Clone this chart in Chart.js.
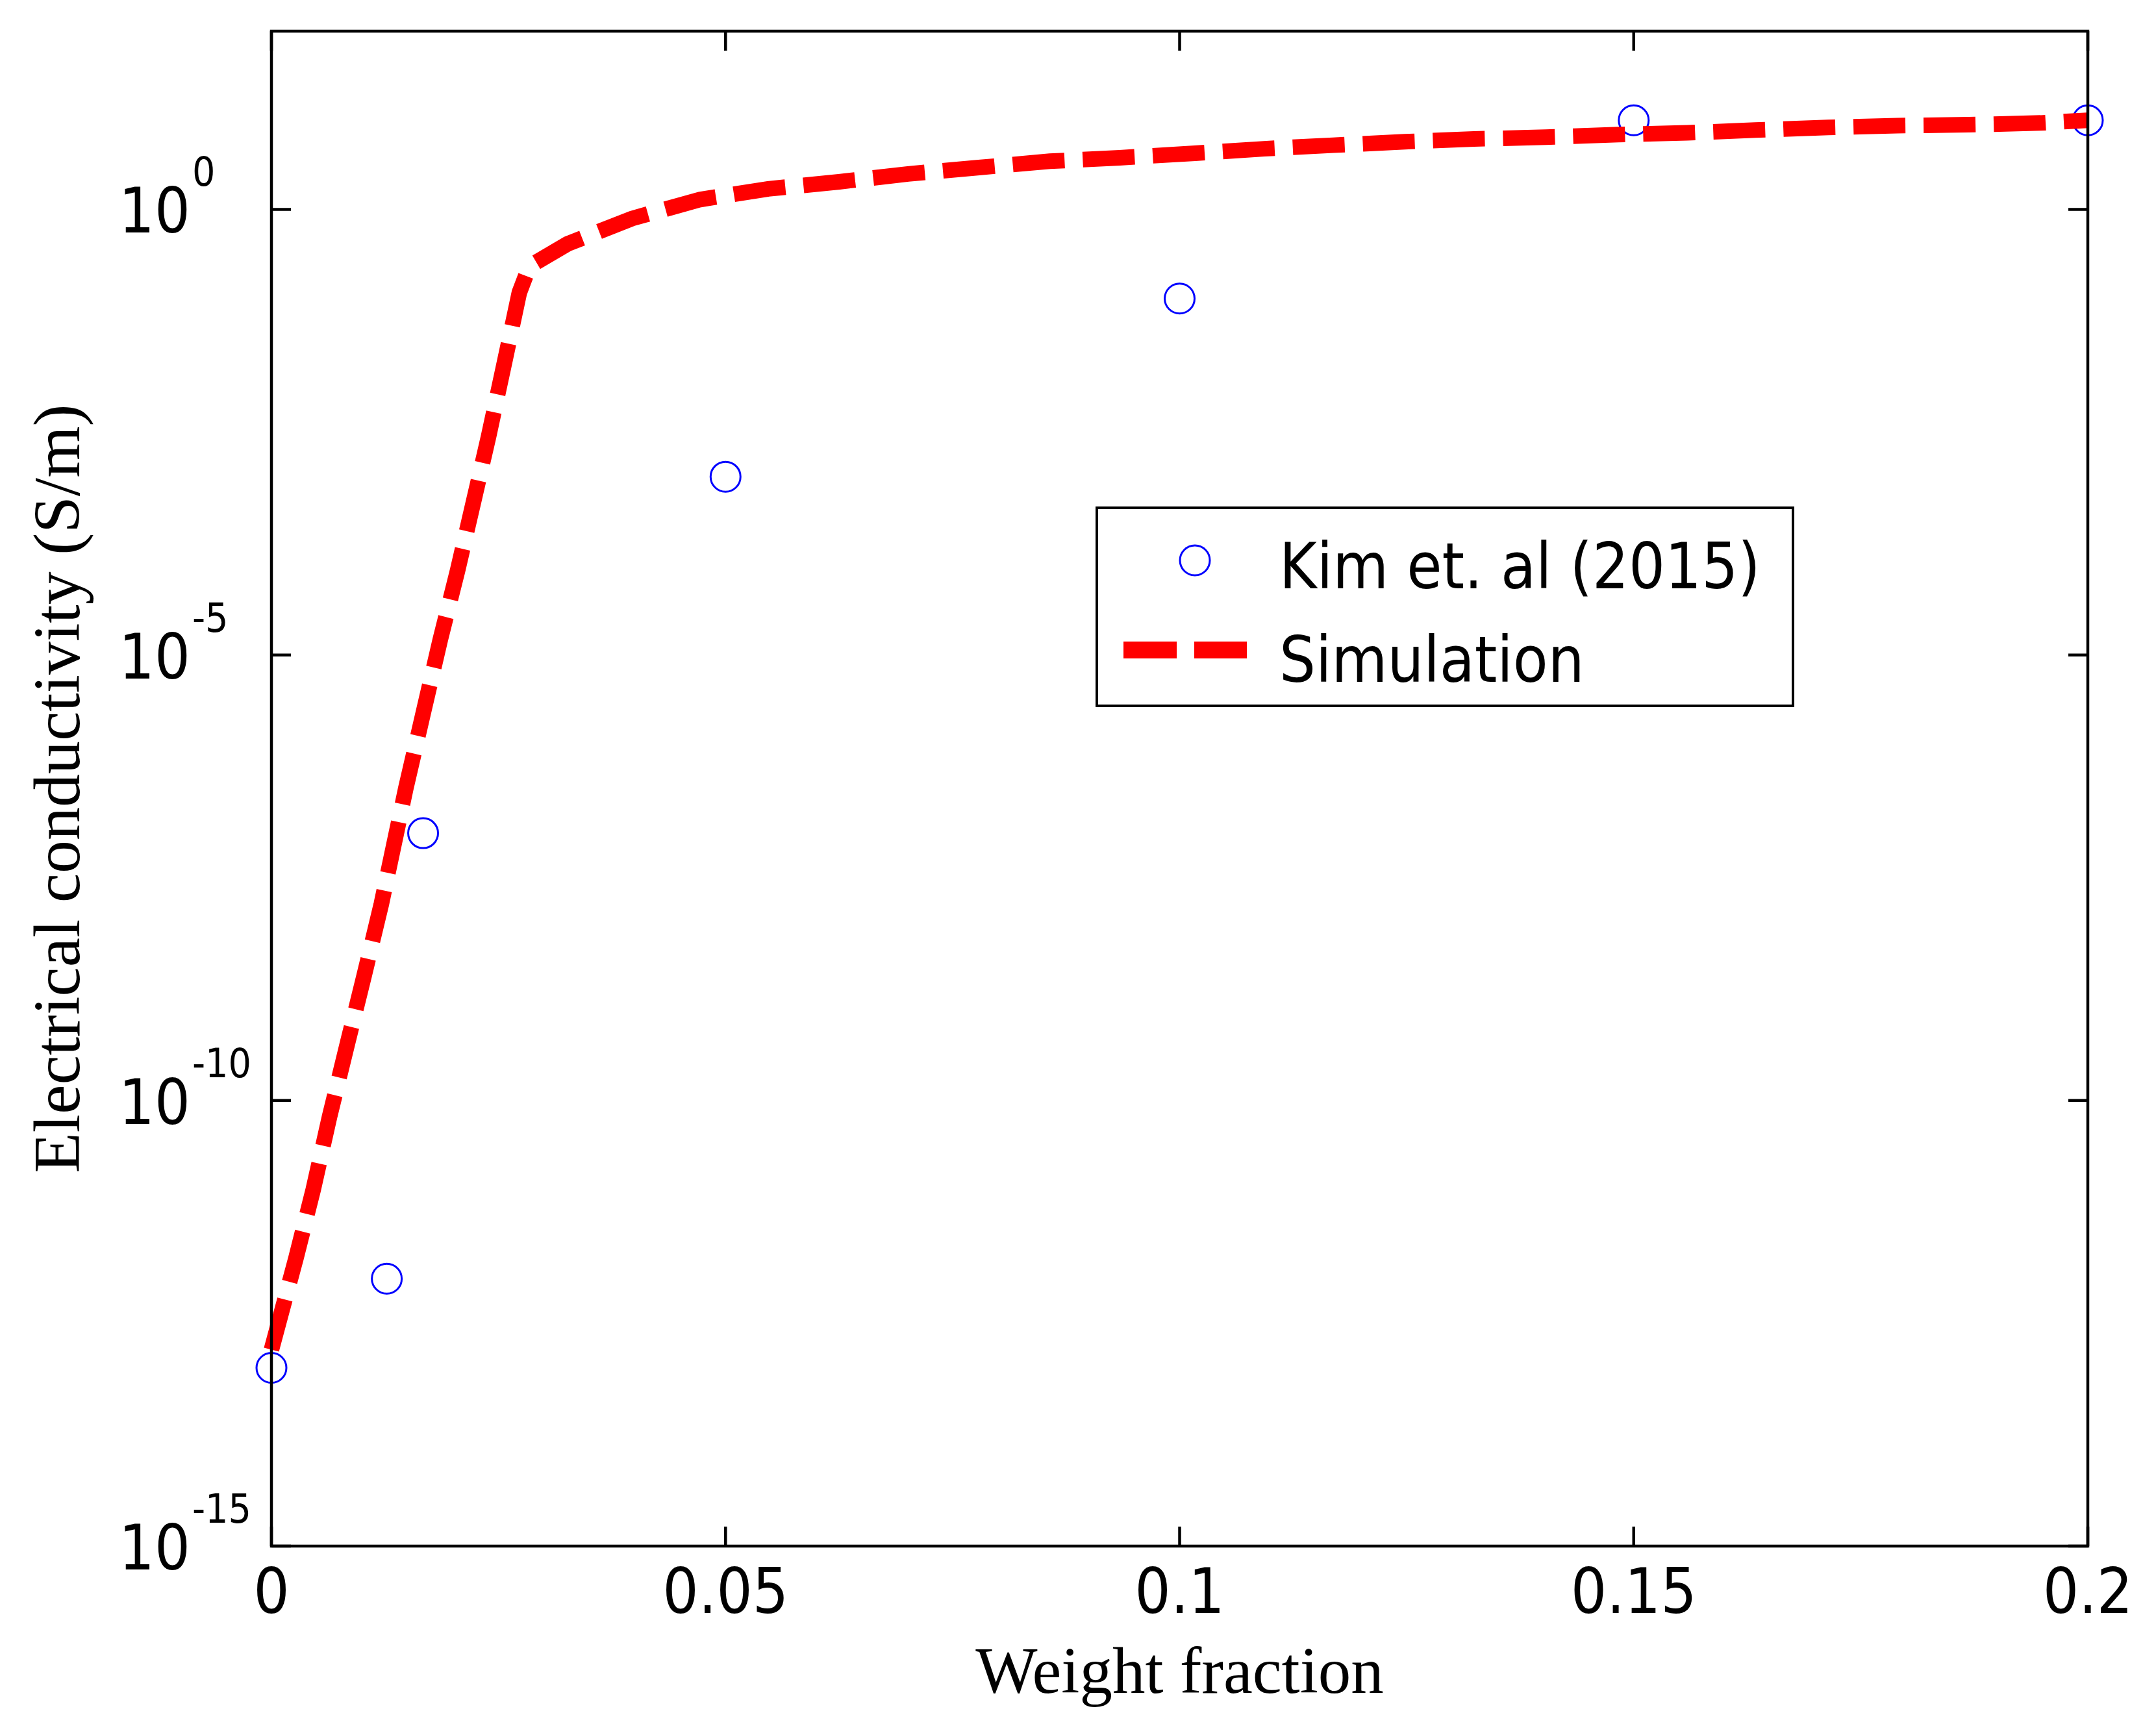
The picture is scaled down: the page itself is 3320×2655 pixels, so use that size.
<!DOCTYPE html>
<html>
<head>
<meta charset="utf-8">
<script src="https://cdn.jsdelivr.net/npm/chart.js@4.4.1/dist/chart.umd.min.js"></script>
<style>
  html, body { margin: 0; padding: 0; background: #fff; }
  #wrap { width: 3320px; height: 2655px; }
</style>
</head>
<body>
<div id="wrap"><canvas id="chart" width="3320" height="2655"></canvas></div>
<script>
// measured points, Kim et al. (2015)
const kimFraction = [0, 0.0127, 0.0167, 0.05, 0.1, 0.15, 0.2];
const kimConductivity = [1e-13, 1e-12, 1e-7, 1e-3, 1e-1, 10, 10];

// simulated curve
const simFraction = [0, 0.0027, 0.0046, 0.0064, 0.0084, 0.0102, 0.0121, 0.0148, 0.0167, 0.0186,
  0.0205, 0.0223, 0.0239, 0.0257, 0.0273, 0.0284, 0.0326, 0.0397, 0.0472, 0.0547,
  0.0625, 0.0701, 0.0779, 0.0857, 0.0934, 0.1017, 0.1093, 0.1169, 0.1248, 0.1324,
  0.1403, 0.1483, 0.1559, 0.1634, 0.1714, 0.179, 0.1869, 0.1948, 0.2];
const simConductivity = [1.6e-13, 1.7e-12, 1e-11, 6.6e-11, 4.5e-10, 2.5e-9, 1.6e-8, 3.2e-7, 2.2e-6, 1.5e-5,
  8.9e-5, 5.5e-4, 2.8e-3, 2e-2, 0.117, 0.23, 0.41, 0.79, 1.29, 1.7,
  2.04, 2.5, 2.95, 3.47, 3.8, 4.27, 4.79, 5.25, 5.75, 6.17,
  6.46, 6.92, 7.24, 7.76, 8.32, 8.71, 8.91, 9.33, 10];

const xTicks = [0, 0.05, 0.1, 0.15, 0.2];
const yTickExponents = [-15, -10, -5, 0];

const sans = '"DejaVu Sans Condensed", "DejaVu Sans", sans-serif';
const serif = '"Liberation Serif", "Times New Roman", serif';

// frame with inward ticks, 10^n labels and the boxed legend
const axisFrame = {
  id: 'axisFrame',
  beforeDraw(chart) {
    const ctx = chart.ctx;
    ctx.save();
    ctx.fillStyle = '#fff';
    ctx.fillRect(0, 0, chart.width, chart.height);
    ctx.restore();
  },
  afterDraw(chart) {
    const { ctx, chartArea: a, scales: { x, y } } = chart;
    const tl = 30;
    ctx.save();
    ctx.strokeStyle = '#000';
    ctx.lineWidth = 4.5;
    ctx.strokeRect(a.left, a.top, a.right - a.left, a.bottom - a.top);

    ctx.beginPath();
    xTicks.forEach(v => {
      const px = x.getPixelForValue(v);
      ctx.moveTo(px, a.bottom); ctx.lineTo(px, a.bottom - tl);
      ctx.moveTo(px, a.top); ctx.lineTo(px, a.top + tl);
    });
    yTickExponents.forEach(e => {
      const py = y.getPixelForValue(Math.pow(10, e));
      ctx.moveTo(a.left, py); ctx.lineTo(a.left + tl, py);
      ctx.moveTo(a.right, py); ctx.lineTo(a.right - tl, py);
    });
    ctx.stroke();

    ctx.fillStyle = '#000';
    ctx.textAlign = 'left';
    ctx.textBaseline = 'alphabetic';
    yTickExponents.forEach(e => {
      const py = y.getPixelForValue(Math.pow(10, e));
      ctx.font = '96px ' + sans;
      ctx.fillText('10', 183, py + 36);
      const w = ctx.measureText('10').width;
      ctx.font = '62px ' + sans;
      ctx.fillText(String(e), 183 + w + 3, py - 36);
    });

    // legend
    const kim = chart.data.datasets[0];
    const sim = chart.data.datasets[1];
    ctx.fillStyle = '#fff';
    ctx.fillRect(1689, 782, 1072, 305);
    ctx.lineWidth = 4;
    ctx.strokeRect(1689, 782, 1072, 305);

    ctx.beginPath();
    ctx.arc(1840, 863, kim.pointRadius, 0, Math.PI * 2);
    ctx.strokeStyle = kim.borderColor;
    ctx.lineWidth = kim.borderWidth;
    ctx.stroke();

    ctx.beginPath();
    ctx.setLineDash([82, 27]);
    ctx.moveTo(1730, 1001);
    ctx.lineTo(1920, 1001);
    ctx.strokeStyle = sim.borderColor;
    ctx.lineWidth = 26;
    ctx.stroke();
    ctx.setLineDash([]);

    ctx.fillStyle = '#000';
    ctx.font = '98px ' + sans;
    ctx.fillText(kim.label, 1970, 906);
    ctx.fillText(sim.label, 1970, 1050);
    ctx.restore();
  }
};

new Chart(document.getElementById('chart'), {
  type: 'scatter',
  data: {
    datasets: [
      {
        label: 'Kim et. al (2015)',
        data: kimFraction.map((f, i) => ({ x: f, y: kimConductivity[i] })),
        showLine: false,
        pointStyle: 'circle',
        pointRadius: 23,
        borderColor: '#0000ff',
        backgroundColor: 'rgba(0,0,0,0)',
        borderWidth: 3,
        clip: false,
        order: 1
      },
      {
        label: 'Simulation',
        data: simFraction.map((f, i) => ({ x: f, y: simConductivity[i] })),
        showLine: true,
        borderColor: '#ff0000',
        backgroundColor: '#ff0000',
        borderWidth: 24,
        borderDash: [80, 28],
        borderCapStyle: 'butt',
        pointRadius: 0,
        tension: 0,
        clip: false,
        order: 0
      }
    ]
  },
  options: {
    responsive: false,
    animation: false,
    devicePixelRatio: 1,
    layout: { padding: { left: 0, top: 48, right: 105, bottom: 0 } },
    plugins: {
      legend: { display: false },
      tooltip: { enabled: false }
    },
    scales: {
      x: {
        type: 'linear',
        min: 0,
        max: 0.2,
        afterBuildTicks: s => { s.ticks = xTicks.map(v => ({ value: v })); },
        afterFit: s => { s.height = 274; },
        grid: { display: false, drawTicks: false },
        border: { display: false },
        ticks: {
          color: '#000',
          font: { family: sans, size: 97 },
          padding: 20,
          maxRotation: 0,
          autoSkip: false,
          callback: v => String(v)
        },
        title: {
          display: true,
          text: 'Weight fraction',
          color: '#000',
          font: { family: serif, size: 101 },
          padding: { top: 0, bottom: 14 }
        }
      },
      y: {
        type: 'logarithmic',
        min: 1e-15,
        max: 1e2,
        afterBuildTicks: s => { s.ticks = yTickExponents.map(e => ({ value: Math.pow(10, e) })); },
        afterFit: s => { s.width = 418; },
        grid: { display: false, drawTicks: false },
        border: { display: false },
        ticks: { display: false },
        title: {
          display: true,
          text: 'Electrical conductivity (S/m)',
          color: '#000',
          font: { family: serif, size: 102 },
          padding: { top: 34, bottom: 0 }
        }
      }
    }
  },
  plugins: [axisFrame]
});
</script>
</body>
</html>
